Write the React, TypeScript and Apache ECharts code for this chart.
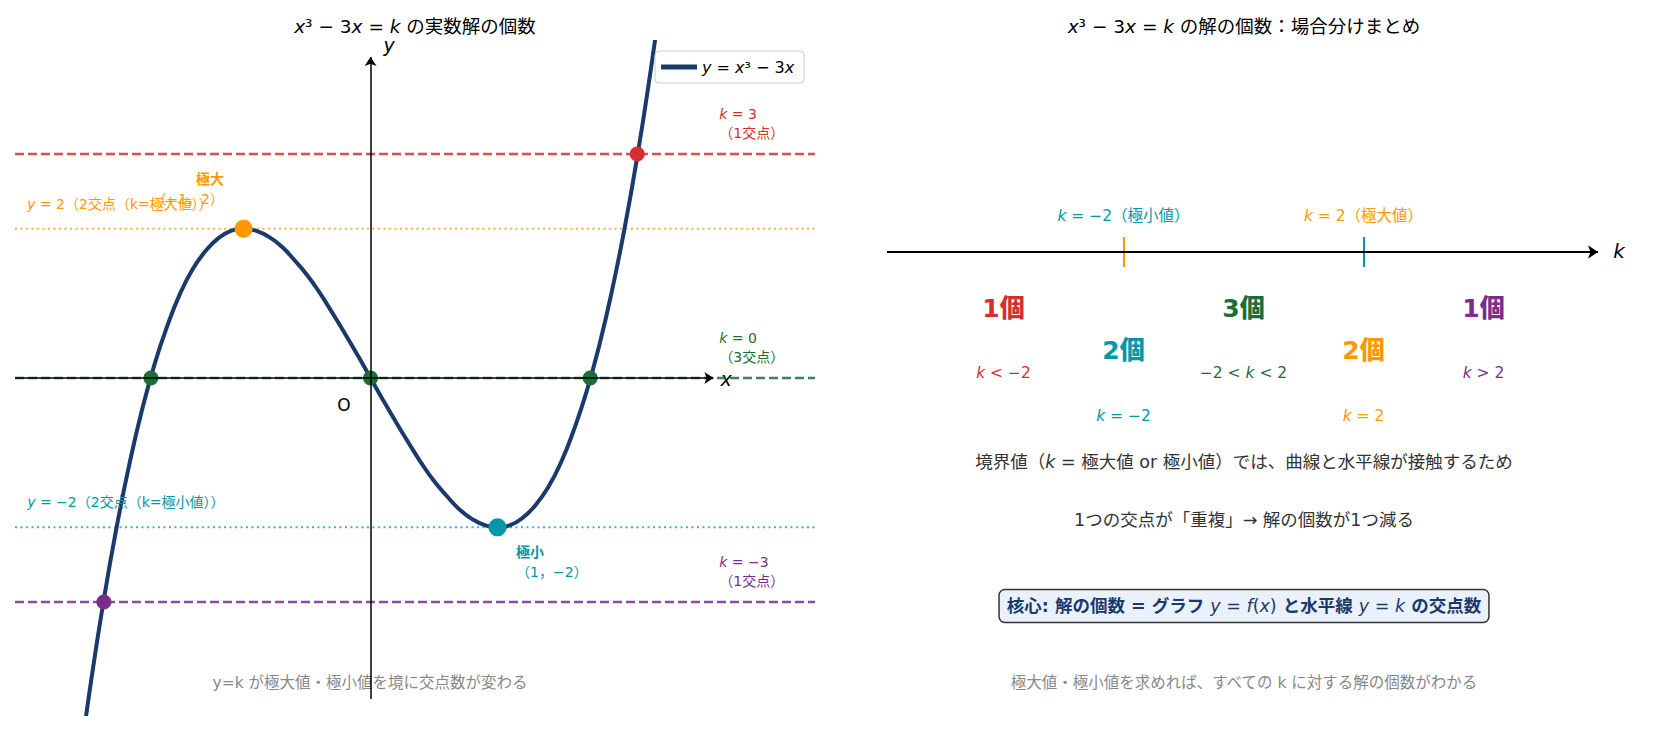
import React, { useEffect, useRef } from "react";
import * as echarts from "echarts";

const FONT = '"DejaVu Sans", "Noto Sans CJK JP", sans-serif';

// ---- Left panel data: samples of the curve ----
const curveX = [
  -2.3, -2.2, -2.1, -2.0, -1.9, -1.8, -1.7, -1.6, -1.5, -1.4, -1.3, -1.2, -1.1, -1.0,
  -0.9, -0.8, -0.7, -0.6, -0.5, -0.4, -0.3, -0.2, -0.1, 0, 0.1, 0.2, 0.3, 0.4, 0.5,
  0.6, 0.7, 0.8, 0.9, 1.0, 1.1, 1.2, 1.3, 1.4, 1.5, 1.6, 1.7, 1.8, 1.9, 2.0, 2.1, 2.2, 2.3,
];
const curveY = [
  -5.27, -4.05, -2.96, -2.0, -1.16, -0.43, 0.19, 0.7, 1.13, 1.46, 1.7, 1.87, 1.97, 2.0,
  1.97, 1.89, 1.76, 1.58, 1.38, 1.14, 0.87, 0.59, 0.3, 0, -0.3, -0.59, -0.87, -1.14, -1.38,
  -1.58, -1.76, -1.89, -1.97, -2.0, -1.97, -1.87, -1.7, -1.46, -1.13, -0.7, -0.19, 0.43,
  1.16, 2.0, 2.96, 4.05, 5.27,
];

const kLevels = [3, 2, 0, -2, -3];
const kLabels = [
  "{i|k} = 3\n（1交点）",
  "{i|y} = 2（2交点（k=極大値））",
  "{i|k} = 0\n（3交点）",
  "{i|y} = −2（2交点（k=極小値））",
  "{i|k} = −3\n（1交点）",
];
const kColors = ["#d32f2f", "#ff9800", "#1b6e3a", "#0097a7", "#7b2d8e"];
const kKinds = ["dashed", "dotted", "dashed", "dotted", "dashed"];

const extremaX = [-1, 1];
const extremaY = [2, -2];
const extremaLabels = ["{b|極大}\n（−1，2）", "{b|極小}\n（1，−2）"];
const extremaColors = ["#ff9800", "#0097a7"];

const crossX = [-1.73, 0, 1.73, 2.1, -2.1];
const crossY = [0, 0, 0, 3, -3];
const crossColors = ["#1b6e3a", "#1b6e3a", "#1b6e3a", "#d32f2f", "#7b2d8e"];

// ---- Right panel data ----
const regionK = [-4, -2, 0, 2, 4];
const regionCount = ["1個", "2個", "3個", "2個", "1個"];
const regionCond = ["{i|k} < −2", "{i|k} = −2", "−2 < {i|k} < 2", "{i|k} = 2", "{i|k} > 2"];
const regionColors = ["#d32f2f", "#0097a7", "#1b6e3a", "#ff9800", "#7b2d8e"];

const boundaryK = [-2, 2];
const boundaryLabels = ["{i|k} = −2（極小値）", "{i|k} = 2（極大値）"];
const boundaryLabelColors = ["#0097a7", "#ff9800"];
const boundaryTickColors = ["#ff9800", "#0097a7"];

const X_MIN = -2.8;
const X_MAX = 3.5;
const Y_MIN = -4.5;
const Y_MAX = 4.5;

function rich(color: string, size: number, weight: string = "normal") {
  return {
    i: { fontStyle: "italic", color, fontSize: size, fontFamily: FONT, fontWeight: weight },
    b: { fontWeight: "bold", color, fontSize: size, fontFamily: FONT },
    n: { color, fontSize: size, fontFamily: FONT, fontWeight: weight },
  };
}

const HIDDEN = { color: "rgba(0,0,0,0)", opacity: 1 };

function buildOption() {
  const series: any[] = [];

  // axes arrows (left)
  series.push({
    type: "line",
    xAxisIndex: 0,
    yAxisIndex: 0,
    data: [],
    silent: true,
    z: 1,
    markLine: {
      silent: true,
      symbol: ["none", "arrow"],
      symbolSize: 9,
      label: { show: false },
      emphasis: { disabled: true },
      lineStyle: { color: "#000", width: 1.5, type: "solid", opacity: 1 },
      data: [
        [{ coord: [X_MIN, 0] }, { coord: [2.7, 0] }],
        [{ coord: [0, -4.3] }, { coord: [0, 4.3] }],
      ],
    },
  });

  // horizontal k lines
  kLevels.forEach((k, i) => {
    const dashed = kKinds[i] === "dashed";
    series.push({
      type: "line",
      xAxisIndex: 0,
      yAxisIndex: 0,
      data: [
        [X_MIN, k],
        [X_MAX, k],
      ],
      showSymbol: false,
      silent: true,
      z: 2,
      lineStyle: {
        color: kColors[i],
        width: dashed ? 2.5 : 2,
        type: dashed ? [9, 4] : [2, 3.5],
        opacity: dashed ? 0.85 : 0.75,
      },
    });
  });

  // curve
  series.push({
    name: "curve",
    type: "line",
    xAxisIndex: 0,
    yAxisIndex: 0,
    data: curveX.map((x, i) => [x, curveY[i]]),
    smooth: true,
    showSymbol: false,
    clip: true,
    z: 3,
    lineStyle: { color: "#1a3a6b", width: 4 },
    itemStyle: { color: "#1a3a6b" },
  });

  // intersection points
  series.push({
    type: "scatter",
    xAxisIndex: 0,
    yAxisIndex: 0,
    z: 4,
    symbolSize: 15,
    silent: true,
    data: crossX.map((x, i) => ({ value: [x, crossY[i]], itemStyle: { color: crossColors[i], opacity: 1 } })),
  });
  series.push({
    type: "scatter",
    xAxisIndex: 0,
    yAxisIndex: 0,
    z: 4,
    symbolSize: 18,
    silent: true,
    data: extremaX.map((x, i) => ({ value: [x, extremaY[i]], itemStyle: { color: extremaColors[i], opacity: 1 } })),
  });

  // k labels
  series.push({
    type: "scatter",
    xAxisIndex: 0,
    yAxisIndex: 0,
    z: 5,
    symbolSize: 1,
    silent: true,
    itemStyle: HIDDEN,
    data: kLevels.map((k, i) => {
      const right = kKinds[i] === "dashed";
      return {
        value: [right ? X_MAX - 0.75 : X_MIN + 0.1, k + (right ? 0.15 : 0.2)],
        label: {
          show: true,
          formatter: kLabels[i],
          position: [0, 0],
          align: "left",
          verticalAlign: "bottom",
          color: kColors[i],
          fontSize: 14,
          lineHeight: 19,
          fontFamily: FONT,
          rich: rich(kColors[i], 14),
        },
      };
    }),
  });

  // extrema labels
  series.push({
    type: "scatter",
    xAxisIndex: 0,
    yAxisIndex: 0,
    z: 5,
    symbolSize: 1,
    silent: true,
    itemStyle: HIDDEN,
    data: extremaX.map((x, i) => {
      const isMax = extremaY[i] > 0;
      return {
        value: [isMax ? x - 0.15 : x + 0.15, isMax ? extremaY[i] + 0.26 : extremaY[i] - 0.2],
        label: {
          show: true,
          formatter: extremaLabels[i],
          position: [0, 0],
          align: isMax ? "right" : "left",
          verticalAlign: isMax ? "bottom" : "top",
          color: extremaColors[i],
          fontSize: 14,
          lineHeight: 20,
          fontFamily: FONT,
          rich: rich(extremaColors[i], 14),
        },
      };
    }),
  });

  // ---------- right panel ----------
  series.push({
    type: "line",
    xAxisIndex: 1,
    yAxisIndex: 1,
    data: [],
    silent: true,
    markLine: {
      silent: true,
      symbol: ["none", "arrow"],
      symbolSize: 10,
      label: { show: false },
      emphasis: { disabled: true },
      lineStyle: { color: "#000", width: 2, type: "solid", opacity: 1 },
      data: [[{ coord: [-5.95, 68.75] }, { coord: [5.9, 68.75] }]],
    },
  });

  boundaryK.forEach((k, i) => {
    series.push({
      type: "line",
      xAxisIndex: 1,
      yAxisIndex: 1,
      data: [
        [k, 66.5],
        [k, 71],
      ],
      showSymbol: false,
      silent: true,
      lineStyle: { color: boundaryTickColors[i], width: 2 },
    });
  });

  series.push({
    type: "scatter",
    xAxisIndex: 1,
    yAxisIndex: 1,
    symbolSize: 1,
    silent: true,
    itemStyle: HIDDEN,
    data: boundaryK.map((k, i) => ({
      value: [k, 74],
      label: {
        show: true,
        formatter: boundaryLabels[i],
        position: [0, 0],
        align: "center",
        verticalAlign: "middle",
        color: boundaryLabelColors[i],
        fontSize: 15.5,
        fontFamily: FONT,
        rich: rich(boundaryLabelColors[i], 15.5),
      },
    })),
  });

  series.push({
    type: "scatter",
    xAxisIndex: 1,
    yAxisIndex: 1,
    symbolSize: 1,
    silent: true,
    itemStyle: HIDDEN,
    data: regionK.map((k, i) => ({
      value: [k, i % 2 === 1 ? 54 : 60.3],
      label: {
        show: true,
        formatter: regionCount[i],
        position: [0, 0],
        align: "center",
        verticalAlign: "middle",
        color: regionColors[i],
        fontSize: 25,
        fontWeight: 900,
        fontFamily: FONT,
      },
    })),
  });

  series.push({
    type: "scatter",
    xAxisIndex: 1,
    yAxisIndex: 1,
    symbolSize: 1,
    silent: true,
    itemStyle: HIDDEN,
    data: regionK.map((k, i) => ({
      value: [k, i % 2 === 1 ? 44.3 : 50.7],
      label: {
        show: true,
        formatter: regionCond[i],
        position: [0, 0],
        align: "center",
        verticalAlign: "middle",
        color: regionColors[i],
        fontSize: 15.5,
        fontFamily: FONT,
        rich: rich(regionColors[i], 15.5),
      },
    })),
  });

  const titleRich = rich("#000", 18.5);
  const graphic: any[] = [
    {
      type: "text",
      x: 415,
      y: 26,
      style: {
        text: "{i|x}{n|³ − 3}{i|x}{n| = }{i|k}{n| の実数解の個数}",
        rich: titleRich,
        fill: "#000",
        fontSize: 18.5,
        fontFamily: FONT,
        align: "center",
        verticalAlign: "middle",
      },
    },
    {
      type: "text",
      x: 1244,
      y: 26,
      style: {
        text: "{i|x}{n|³ − 3}{i|x}{n| = }{i|k}{n| の解の個数：場合分けまとめ}",
        rich: titleRich,
        fill: "#000",
        fontSize: 18.5,
        fontFamily: FONT,
        align: "center",
        verticalAlign: "middle",
      },
    },
    {
      type: "text",
      x: 389,
      y: 45,
      style: { text: "y", fill: "#000", fontSize: 19, fontStyle: "italic", fontFamily: FONT, align: "center", verticalAlign: "middle" },
    },
    {
      type: "text",
      x: 726,
      y: 379,
      style: { text: "x", fill: "#000", fontSize: 19, fontStyle: "italic", fontFamily: FONT, align: "center", verticalAlign: "middle" },
    },
    {
      type: "text",
      x: 344,
      y: 405,
      style: { text: "O", fill: "#000", fontSize: 17, fontFamily: FONT, align: "center", verticalAlign: "middle" },
    },
    {
      type: "text",
      x: 370,
      y: 683,
      style: {
        text: "y=k が極大値・極小値を境に交点数が変わる",
        fill: "#888",
        fontSize: 15.5,
        fontFamily: FONT,
        align: "center",
        verticalAlign: "middle",
      },
    },
    {
      type: "text",
      x: 1619,
      y: 251,
      style: { text: "k", fill: "#000", fontSize: 20, fontStyle: "italic", fontFamily: FONT, align: "center", verticalAlign: "middle" },
    },
    {
      type: "text",
      x: 1244,
      y: 462,
      style: {
        text: "{n|境界値（}{i|k}{n| = 極大値 or 極小値）では、曲線と水平線が接触するため}",
        rich: rich("#333", 17.5),
        fill: "#333",
        fontSize: 17.5,
        fontFamily: FONT,
        align: "center",
        verticalAlign: "middle",
      },
    },
    {
      type: "text",
      x: 1244,
      y: 520,
      style: {
        text: "1つの交点が「重複」→ 解の個数が1つ減る",
        fill: "#333",
        fontSize: 17.5,
        fontFamily: FONT,
        align: "center",
        verticalAlign: "middle",
      },
    },
    {
      type: "text",
      x: 1244,
      y: 606,
      style: {
        text: "{b|核心: 解の個数 = グラフ }{i|y}{n| = }{i|f}{n|(}{i|x}{n|)}{b| と水平線 }{i|y}{n| = }{i|k}{b| の交点数}",
        rich: {
          b: { fontWeight: "bold", color: "#1a3a6b", fontSize: 17.5, fontFamily: FONT },
          i: { fontStyle: "italic", color: "#1a3a6b", fontSize: 17.5, fontFamily: FONT },
          n: { color: "#1a3a6b", fontSize: 17.5, fontFamily: FONT },
        },
        fill: "#1a3a6b",
        fontSize: 17.5,
        fontFamily: FONT,
        align: "center",
        verticalAlign: "middle",
        backgroundColor: "#eaf1fb",
        borderColor: "#333",
        borderWidth: 1.5,
        borderRadius: 5,
        padding: [7, 7, 7, 7],
      },
    },
    {
      type: "text",
      x: 1244,
      y: 683,
      style: {
        text: "極大値・極小値を求めれば、すべての k に対する解の個数がわかる",
        fill: "#888",
        fontSize: 15.5,
        fontFamily: FONT,
        align: "center",
        verticalAlign: "middle",
      },
    },
  ];

  return {
    animation: false,
    backgroundColor: "#fff",
    textStyle: { fontFamily: FONT },
    grid: [
      { left: 15, top: 42, width: 800, height: 672, containLabel: false },
      { left: 884, top: 42, width: 720, height: 672, containLabel: false },
    ],
    xAxis: [
      { type: "value", gridIndex: 0, min: X_MIN, max: X_MAX, show: false },
      { type: "value", gridIndex: 1, min: -6, max: 6, show: false },
    ],
    yAxis: [
      { type: "value", gridIndex: 0, min: Y_MIN, max: Y_MAX, show: false },
      { type: "value", gridIndex: 1, min: 0, max: 100, show: false },
    ],
    legend: {
      data: ["curve"],
      left: 655,
      top: 51,
      orient: "vertical",
      icon: "rect",
      itemWidth: 36,
      itemHeight: 5,
      itemGap: 6,
      padding: [8, 10, 8, 6],
      backgroundColor: "#fff",
      borderColor: "#ccc",
      borderWidth: 1,
      borderRadius: 4,
      formatter: () => "{i|y}{n| = }{i|x}{n|³ − 3}{i|x}",
      textStyle: {
        fontSize: 16,
        fontFamily: FONT,
        color: "#000",
        rich: {
          i: { fontStyle: "italic", fontSize: 16, fontFamily: FONT, color: "#000" },
          n: { fontSize: 16, fontFamily: FONT, color: "#000" },
        },
      },
    },
    graphic,
    series,
  };
}

export default function App() {
  const ref = useRef<HTMLDivElement>(null);
  useEffect(() => {
    if (!ref.current) return;
    const chart = echarts.init(ref.current, undefined, { renderer: "svg" });
    chart.setOption(buildOption() as any);
    return () => chart.dispose();
  }, []);
  return (
    <div
      ref={ref}
      style={{ position: "fixed", left: 0, top: 0, width: 1659, height: 729, background: "#fff" }}
    />
  );
}
